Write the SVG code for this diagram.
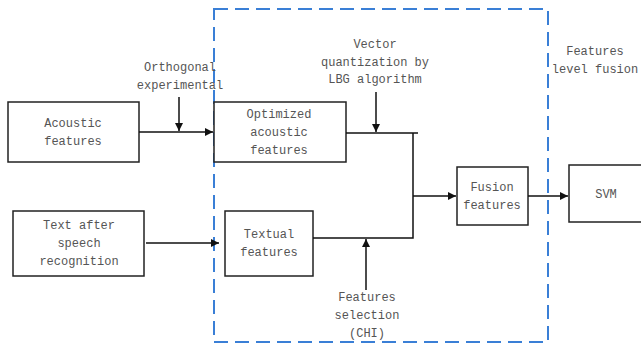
<svg xmlns="http://www.w3.org/2000/svg" width="641" height="345" viewBox="0 0 641 345">
<style>
.box{fill:#fff;stroke:#222;stroke-width:1.5}
.t{font-family:"Liberation Mono","DejaVu Sans Mono",monospace;font-size:12px;fill:#555;text-anchor:middle}
.c{fill:none;stroke:#111;stroke-width:1.5}
</style>
<defs>
<marker id="ah" viewBox="0 0 10 10" refX="10" refY="5" markerWidth="8" markerHeight="8" markerUnits="userSpaceOnUse" orient="auto"><path d="M0,0 L10,5 L0,10 z" fill="#111"/></marker>
</defs>
<rect x="214" y="9" width="334" height="333" fill="none" stroke="#3a7fd6" stroke-width="2" stroke-dasharray="14,7"/>
<g id="acoustic"><rect class="box" x="8" y="102" width="131" height="60"/><text class="t" x="73" y="127">Acoustic</text><text class="t" x="73" y="145">features</text></g>
<g id="optimized"><rect class="box" x="214" y="102" width="132" height="60"/><text class="t" x="279" y="118">Optimized</text><text class="t" x="279" y="136">acoustic</text><text class="t" x="279" y="154">features</text></g>
<g id="textin"><rect class="box" x="13" y="211" width="131" height="65"/><text class="t" x="79" y="229">Text after</text><text class="t" x="79" y="247">speech</text><text class="t" x="79" y="265">recognition</text></g>
<g id="textual"><rect class="box" x="225" y="211" width="88" height="65"/><text class="t" x="269" y="238">Textual</text><text class="t" x="269" y="256">features</text></g>
<g id="fusion"><rect class="box" x="457" y="167" width="71" height="58"/><text class="t" x="492" y="191">Fusion</text><text class="t" x="492" y="209">features</text></g>
<g id="svm"><rect class="box" x="569" y="165" width="80" height="57"/><text class="t" x="606" y="198">SVM</text></g>
<g id="labels">
<text class="t" x="180" y="71">Orthogonal</text><text class="t" x="180" y="89">experimental</text>
<text class="t" x="375" y="48">Vector</text><text class="t" x="375" y="66">quantization by</text><text class="t" x="375" y="83">LBG algorithm</text>
<text class="t" x="595" y="55">Features</text><text class="t" x="595" y="73">level fusion</text>
<text class="t" x="367" y="301">Features</text><text class="t" x="367" y="319">selection</text><text class="t" x="367" y="337">(CHI)</text>
</g>
<g id="connectors">
<path class="c" d="M139,132 H213" marker-end="url(#ah)"/>
<path class="c" d="M179,97 V131" marker-end="url(#ah)"/>
<path class="c" d="M376,92 V132" marker-end="url(#ah)"/>
<path class="c" d="M346,133 H418"/>
<path class="c" d="M413,133 V238 H313"/>
<path class="c" d="M413,196 H456" marker-end="url(#ah)"/>
<path class="c" d="M528,196 H568" marker-end="url(#ah)"/>
<path class="c" d="M146,243 H219" marker-end="url(#ah)"/>
<path class="c" d="M366,290 V239" marker-end="url(#ah)"/>
</g>
</svg>
